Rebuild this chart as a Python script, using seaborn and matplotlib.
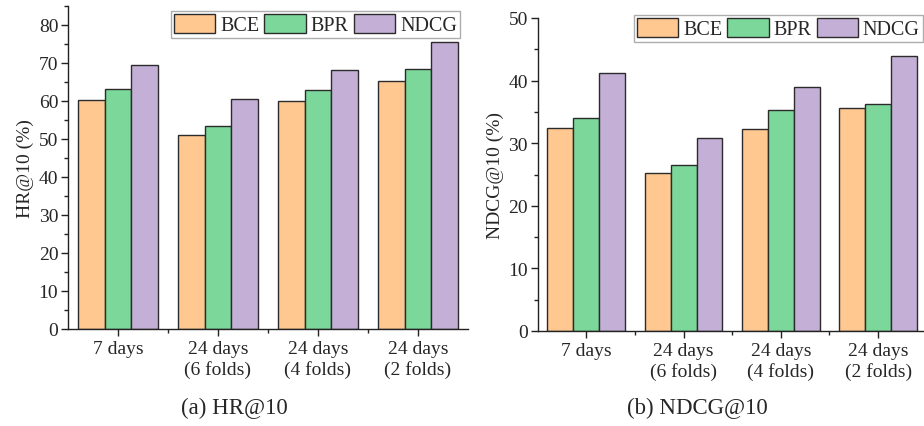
import pandas as pd
import matplotlib.pyplot as plt
import seaborn as sns
from matplotlib.ticker import MultipleLocator, FixedLocator

settings = ["7 days", "24 days\n(6 folds)", "24 days\n(4 folds)", "24 days\n(2 folds)"]
losses = ["BCE", "BPR", "NDCG"]
hr_bce = [60.3, 51.1, 60.1, 65.3]
hr_bpr = [63.2, 53.5, 63.0, 68.5]
hr_ndcg = [69.6, 60.6, 68.2, 75.4]
ndcg_bce = [32.5, 25.2, 32.3, 35.6]
ndcg_bpr = [34.1, 26.5, 35.3, 36.3]
ndcg_ndcg = [41.2, 30.9, 39.0, 43.9]
colors = ["#FFC891", "#7BD89A", "#C4AFD6"]


def to_long(series):
    rows = []
    for loss, vals in zip(losses, series):
        for s, v in zip(settings, vals):
            rows.append({"setting": s, "loss": loss, "value": v})
    return pd.DataFrame(rows)


sns.set_style("ticks")
plt.rcParams["font.family"] = ["Liberation Serif", "DejaVu Serif"]

fig = plt.figure(figsize=(9.24, 4.27), dpi=100)
ax1 = fig.add_axes([68 / 924, 97 / 427, 400 / 924, 323 / 427])
ax2 = fig.add_axes([537.7 / 924, 95 / 427, 389 / 924, 313 / 427])


def draw(ax, df, ylim, ylabel, leg_anchor):
    sns.barplot(data=df, x="setting", y="value", hue="loss", palette=colors,
                saturation=1, edgecolor="#2b2b2b", linewidth=1.0, width=0.8,
                ax=ax, errorbar=None)
    ax.set_xlim(-0.5, 3.5)
    ax.set_ylim(*ylim)
    ax.set_xlabel("")
    ax.set_ylabel(ylabel, fontsize=14, labelpad=3)
    ax.yaxis.set_major_locator(MultipleLocator(10))
    ax.yaxis.set_minor_locator(MultipleLocator(5))
    ax.xaxis.set_minor_locator(FixedLocator([0.5, 1.5, 2.5]))
    ax.tick_params(axis="both", which="major", labelsize=14, length=5, width=1, direction="out", color="#222")
    ax.tick_params(axis="both", which="minor", length=3, width=1, color="#222")
    ax.tick_params(axis="x", pad=3)
    ax.tick_params(axis="y", pad=2)
    sns.despine(ax=ax)
    for sp in ["left", "bottom"]:
        ax.spines[sp].set_linewidth(1.0)
        ax.spines[sp].set_color("#222")
    handles, labels = ax.get_legend_handles_labels()
    ax.legend(handles, labels, ncol=3, loc="upper right", bbox_to_anchor=leg_anchor,
              fontsize=14.5, frameon=True, fancybox=False, edgecolor="#999999",
              handlelength=2.05, handleheight=1.1, handletextpad=0.25,
              columnspacing=0.25, borderpad=0.15, borderaxespad=0)
    ax.get_legend().get_frame().set_linewidth(1.0)


draw(ax1, to_long([hr_bce, hr_bpr, hr_ndcg]), (0, 85), "HR@10 (%)", (0.98, 0.985))
draw(ax2, to_long([ndcg_bce, ndcg_bpr, ndcg_ndcg]), (0, 50), "NDCG@10 (%)", (0.99, 1.01))

fig.text(234 / 924, 1 - 408 / 427, "(a) HR@10", ha="center", va="center", fontsize=16.5)
fig.text(697 / 924, 1 - 408 / 427, "(b) NDCG@10", ha="center", va="center", fontsize=16.5)

fig.savefig("out.png", dpi=100)
